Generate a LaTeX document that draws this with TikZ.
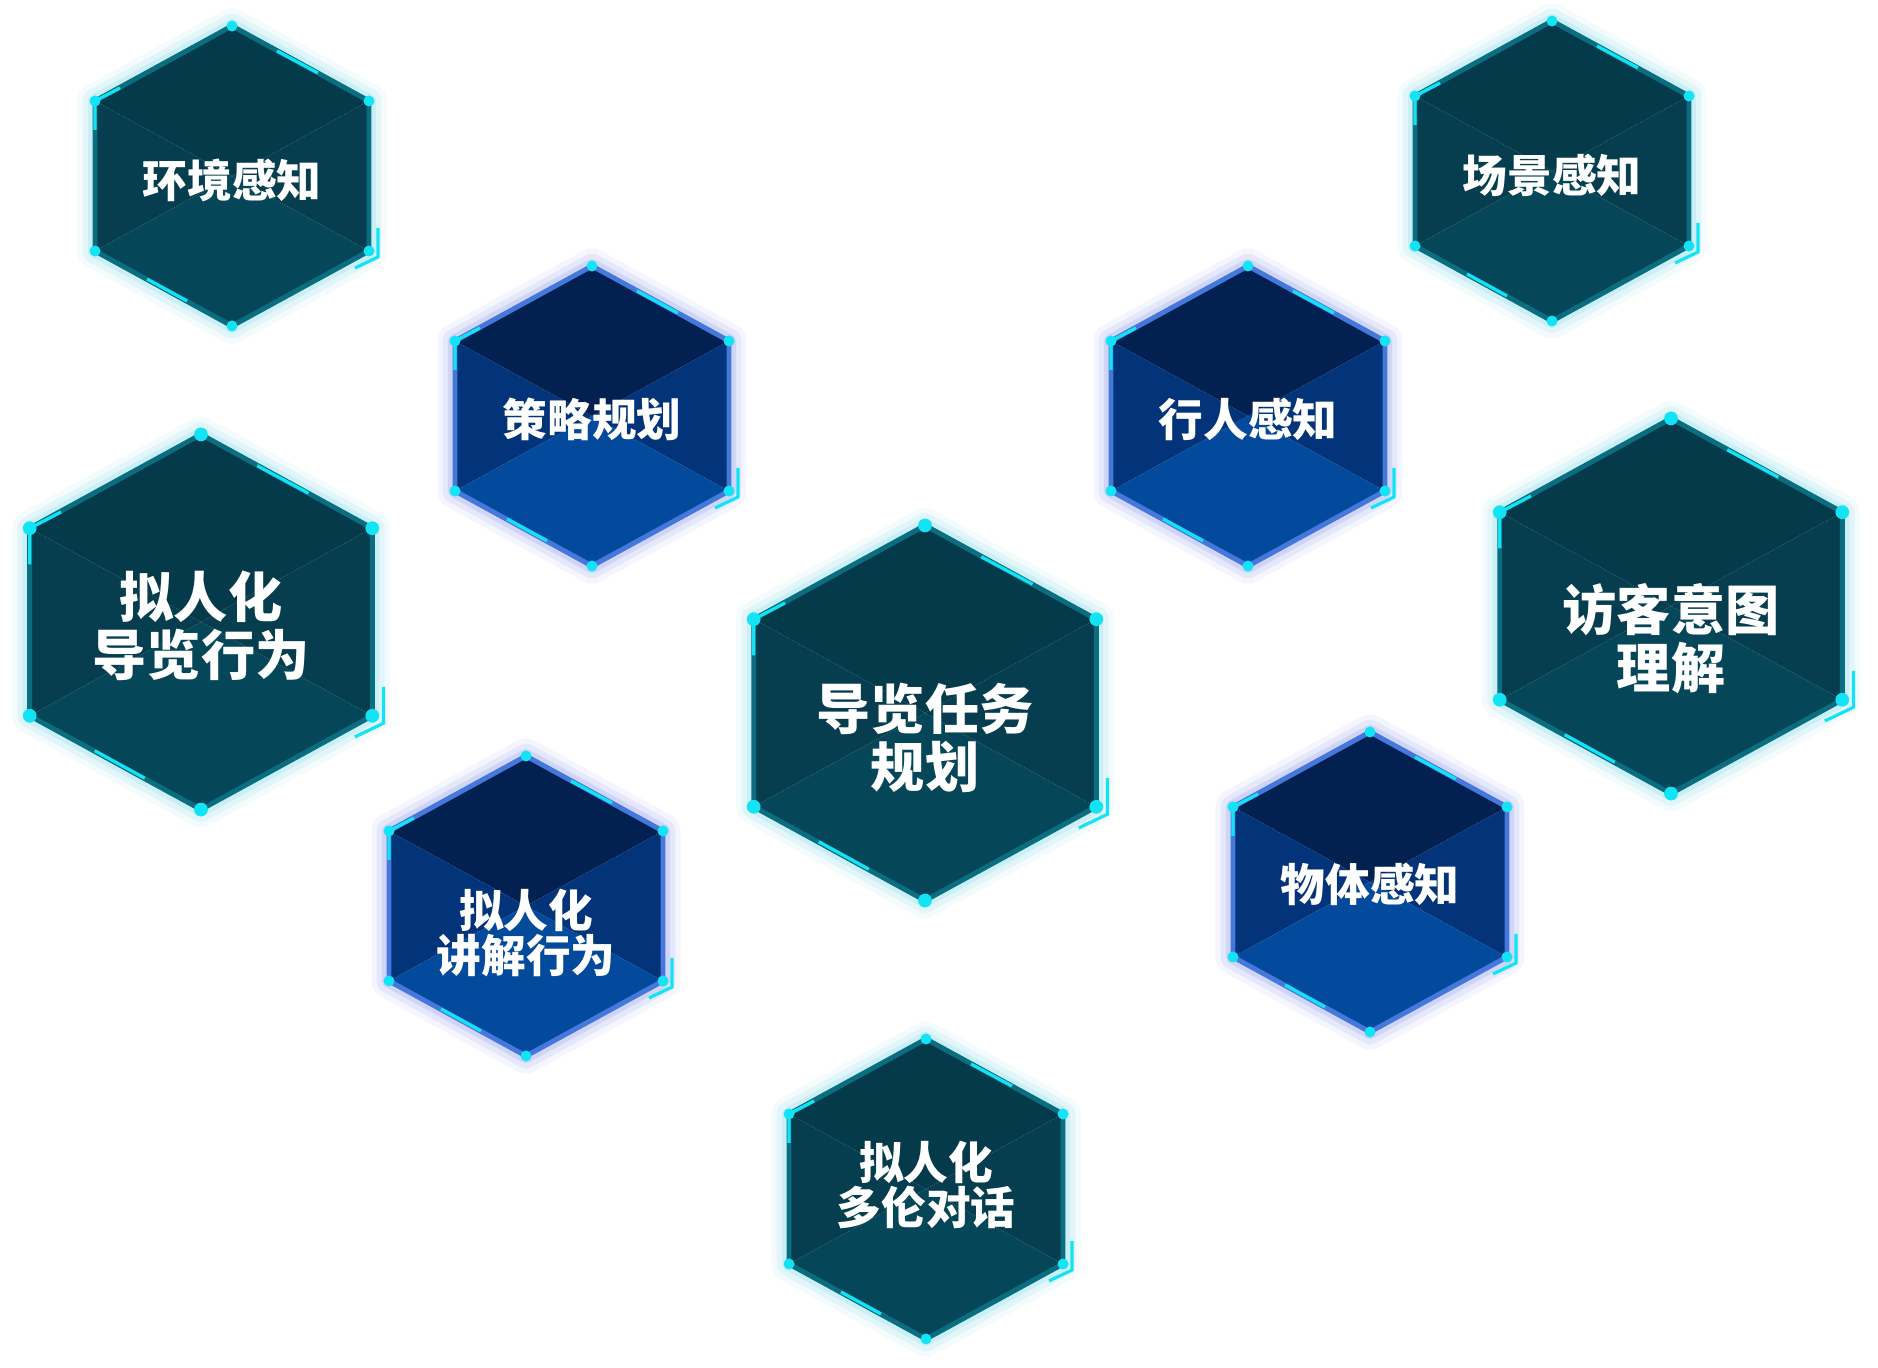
\documentclass[tikz,border=0pt]{standalone}
\usepackage{fontspec}
\newfontfamily\cjk{Noto Sans CJK SC}[BoldFont={Noto Sans CJK SC Black}]
\usepackage{xcolor}
\usepackage{tikz}
\usetikzlibrary{calc}
\definecolor{tealtop}{HTML}{053A4B}
\definecolor{tealside}{HTML}{063E50}
\definecolor{tealbottom}{HTML}{054658}
\definecolor{tealedge}{HTML}{0A6E80}
\definecolor{tealglow}{HTML}{6FD3E6}
\definecolor{bluetop}{HTML}{022150}
\definecolor{blueside}{HTML}{033479}
\definecolor{bluebottom}{HTML}{034A9C}
\definecolor{blueedge}{HTML}{4678DC}
\definecolor{blueglow}{HTML}{7C8CF0}
\definecolor{accent}{HTML}{12E3F5}

\newcommand{\hexcell}[7]{%
  \begin{scope}[shift={#2}, scale=#3]
    \coordinate (T) at (0,-150);
    \coordinate (UR) at (137,-75);
    \coordinate (LR) at (137,75);
    \coordinate (B) at (0,150);
    \coordinate (LL) at (-137,75);
    \coordinate (UL) at (-137,-75);
    \foreach \lw/\op in {10pt/0.08, 7pt/0.12, 4pt/0.2}
      \draw[#4glow, line width=\lw, opacity=\op, line join=round] (T) -- (UR) -- (LR) -- (B) -- (LL) -- (UL) -- cycle;
    \fill[#4top] (T) -- (UR) -- (0,0) -- (UL) -- cycle;
    \fill[#4side] (UL) -- (0,0) -- (LL) -- cycle;
    \fill[#4side] (UR) -- (0,0) -- (LR) -- cycle;
    \fill[#4bottom] (LL) -- (0,0) -- (LR) -- (B) -- cycle;
    \draw[#4edge, edge line] (T) -- (UR) -- (LR) -- (B) -- (LL) -- (UL) -- cycle;
    \draw[accent line] (45,-125) -- (86,-103);
    \draw[accent line] (-112,-88) -- (UL) -- (-137,-46);
    \draw[accent line] (-85,103) -- (-45,125);
    \draw[accent line] (146,52) -- (146,81) -- (123,92);
    \foreach \v in {T,UR,LR,B,LL,UL}
      \fill[accent] (\v) circle[radius=5.5];
    \node[#5] (#1) at (0,#6) {#7};
  \end{scope}}

\begin{document}
\begin{tikzpicture}[
    x=0.01cm, y=-0.01cm,
    cell small/.style={text=white, align=center, inner sep=0pt, font=\cjk\bfseries\fontsize{12.7}{12.9}\selectfont},
    cell big/.style={text=white, align=center, inner sep=0pt, font=\cjk\bfseries\fontsize{15.4}{16.5}\selectfont},
    edge line/.style={line width=1.4pt, line join=round},
    accent line/.style={draw=accent, line width=0.9pt}
]
\fill[white] (0,0) rectangle (1878,1368);
\useasboundingbox (0,0) rectangle (1878,1368);

\hexcell{env}{(232,176)}{1}{teal}{cell small}{4}{环境感知}
\hexcell{scene}{(1552,171)}{1}{teal}{cell small}{4}{场景感知}
\hexcell{strategy}{(592,416)}{1}{blue}{cell small}{3}{策略规划}
\hexcell{pedestrian}{(1248,416)}{1}{blue}{cell small}{3}{行人感知}
\hexcell{guide}{(201,622)}{1.25}{teal}{cell big}{3}{拟人化\\导览行为}
\hexcell{task}{(925,713)}{1.25}{teal}{cell big}{20}{导览任务\\规划}
\hexcell{intent}{(1671,606)}{1.25}{teal}{cell big}{26}{访客意图\\理解}
\hexcell{explain}{(526,906)}{1}{blue}{cell small}{27}{拟人化\\讲解行为}
\hexcell{object}{(1370,882)}{1}{blue}{cell small}{2}{物体感知}
\hexcell{dialog}{(926,1189)}{1}{teal}{cell small}{-4}{拟人化\\多伦对话}
\end{tikzpicture}
\end{document}
